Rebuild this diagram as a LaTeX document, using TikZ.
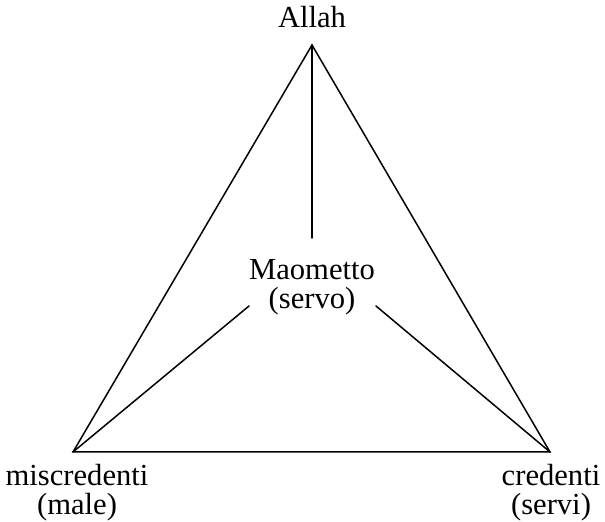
\documentclass[tikz,border=0pt]{standalone}
\usepackage{fontspec}
\setmainfont{Liberation Serif}
\usetikzlibrary{positioning}
\tikzset{
    edge/.style={line width=0.75pt,line cap=round},
    lbl/.style={font=\fontsize{15.3}{14.5}\selectfont,align=center,inner sep=0pt},
}

\begin{document}
\begin{tikzpicture}[x=0.5pt,y=-0.5pt]
\useasboundingbox (0,0) rectangle (605,522);
% corners of the triangle
\coordinate (allah) at (312,45);
\coordinate (misc) at (73,452);
\coordinate (cred) at (550,452);
% ends of the inner lines
\coordinate (mtop) at (312,238);
\coordinate (mleft) at (249,306);
\coordinate (mright) at (376,306);

% labels (base = baseline of the last line)
\node[lbl,anchor=base] (tallah) at (312,28) {Allah};
\node[lbl,anchor=base] (tmao) at (312,309) {Maometto\\(servo)};
\node[lbl,anchor=base] (tmisc) at (77,515) {miscredenti\\(male)};
\node[lbl,anchor=base] (tcred) at (551,515) {credenti\\(servi)};

\draw[edge] (allah) -- (misc) -- (cred) -- cycle;
\draw[edge] (allah) -- (mtop);
\draw[edge] (misc) -- (mleft);
\draw[edge] (cred) -- (mright);
\end{tikzpicture}
\end{document}
